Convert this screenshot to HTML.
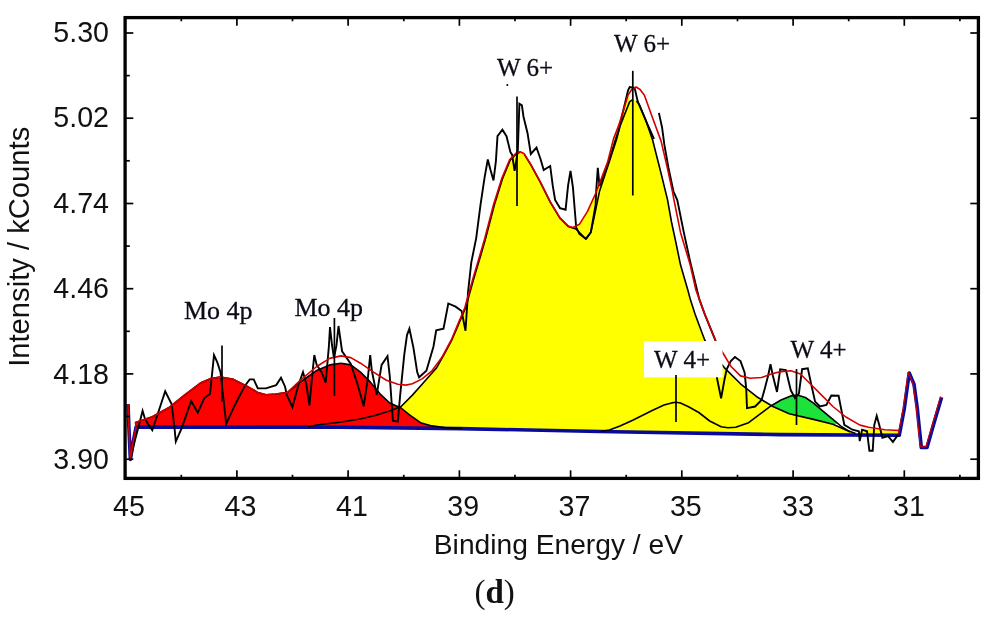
<!DOCTYPE html>
<html><head><meta charset="utf-8"><title>XPS W 4f</title>
<style>
html,body{margin:0;padding:0;background:#fff;}
svg{display:block;filter:blur(0.45px);}
.ax{font-family:"Liberation Sans",Arial,sans-serif;font-size:28.6px;fill:#111;}
.lb{font-family:"Liberation Serif","Times New Roman",serif;font-size:25px;fill:#0c0c18;stroke:#0c0c18;stroke-width:0.3px;}
</style></head><body>
<svg width="989" height="617" viewBox="0 0 989 617">
<rect width="989" height="617" fill="#fff"/>
<g id="curves">
<polygon points="401.1,406.5 412.4,395.1 425.4,380.5 436.7,367.6 444.8,353.0 451.8,340.0 456.6,328.9 465.6,307.8 473.8,278.6 482.0,251.1 485.5,238.9 494.4,204.8 502.4,178.9 510.3,160.0 516.4,153.6 520.2,152.3 524.3,153.8 530.8,164.3 540.5,182.1 550.2,201.6 560.0,217.8 568.1,225.9 572.9,227.5 579.4,224.3 587.5,211.3 595.6,193.5 607.6,162.1 613.5,138.9 618.9,124.9 628.1,95.1 629.7,101.6 633.0,99.5 636.5,101.0 639.4,104.8 645.7,120.0 652.6,140.0 661.1,173.5 667.5,199.6 671.5,222.0 676.0,243.0 680.5,264.8 687.8,290.0 690.2,298.9 695.1,314.3 704.8,340.3 715.0,356.0 724.3,367.6 740.5,383.8 756.7,396.7 772.9,406.5 789.2,413.8 813.5,419.4 832.9,424.3 845.9,430.0 855.6,433.5 868.6,428.5 884.8,430.5 899.4,431.2 899.4,436.3 780.0,435.6 600.0,432.5 460.0,429.6 401.1,429.0" fill="#ffff00"/>
<polygon points="135.4,422.4 152.4,416.7 168.6,407.8 184.8,394.8 201.0,382.7 210.8,378.6 220.5,377.0 233.5,379.4 246.4,385.9 257.8,392.4 265.9,394.8 276.2,394.0 287.6,392.4 300.5,381.9 316.7,370.5 329.7,364.9 341.0,363.2 350.8,364.9 360.5,372.1 370.2,381.9 380.0,393.8 389.7,403.0 401.1,408.0 409.2,414.6 420.5,422.7 431.9,425.9 444.8,427.6 462.0,428.5 462.0,429.6 340.0,428.3 135.4,428.0" fill="#ff0000"/>
<polygon points="771.3,405.7 781.0,400.0 790.8,395.9 797.3,395.1 805.4,397.5 813.5,403.2 823.2,411.3 832.9,419.4 838.0,423.5 832.9,424.3 813.5,419.4 797.3,416.2 789.2,413.8" fill="#1ee23c"/>
<polyline points="128.0,404.0 129.0,430.0 130.4,459.4 133.0,443.0 136.1,427.0 340.0,427.3 460.0,428.6 600.0,431.5 780.0,434.6 899.4,435.3 899.4,434.6 904.3,408.6 909.2,373.0 914.0,384.3 917.3,408.6 921.3,447.5 927.0,447.5 933.5,424.8 941.6,397.3" fill="none" stroke="#0a0a9a" stroke-width="3.6" stroke-linejoin="round"/>
<polyline points="135.4,422.4 152.4,416.7 168.6,407.8 184.8,394.8 201.0,382.7 210.8,378.6 220.5,377.0 233.5,379.4 246.4,385.9 257.8,392.4 265.9,394.8 276.2,394.0 287.6,392.4 300.5,381.9 316.7,370.5 329.7,364.9 341.0,363.2 350.8,364.9 360.5,372.1 370.2,381.9 380.0,393.8 389.7,403.0 401.1,408.0 409.2,414.6 420.5,422.7 431.9,425.9 444.8,427.6 462.0,428.5" fill="none" stroke="#000" stroke-width="1.6" stroke-linejoin="round"/>
<polyline points="308.0,427.0 316.7,425.0 340.0,422.3 360.0,419.0 375.0,415.5 389.7,411.0 401.1,406.5 412.4,395.1 425.4,380.5 436.7,367.6 444.8,353.0 451.8,340.0 456.6,328.9 465.6,307.8 473.8,278.6 482.0,251.1 485.5,238.9 494.4,204.8 502.4,178.9 510.3,160.0 516.4,153.6 520.2,152.3" fill="none" stroke="#000" stroke-width="1.6" stroke-linejoin="round"/>
<polyline points="524.3,154.3 530.8,164.8 540.5,182.6 550.2,202.1 560.0,218.3 568.1,226.4 576.0,229.0 586.0,239.0" fill="none" stroke="#000" stroke-width="1.6" stroke-linejoin="round"/>
<polyline points="586.0,239.0 590.8,232.4 593.8,218.9 599.5,191.3 609.2,162.1 616.7,138.9 620.5,124.9 629.7,101.6 633.0,99.5" fill="none" stroke="#000" stroke-width="1.6" stroke-linejoin="round"/>
<polyline points="636.5,101.0 639.4,104.8 645.7,120.0 652.6,140.0 661.1,173.5 667.5,199.6 671.5,222.0 676.0,243.0 680.5,264.8 687.8,290.0 690.2,298.9 695.1,314.3 704.8,340.3 715.0,356.0 724.3,367.6 740.5,383.8 756.7,396.7 772.9,406.5 789.2,413.8 813.5,419.4 832.9,424.3 845.9,430.0 855.6,433.5" fill="none" stroke="#000" stroke-width="1.6" stroke-linejoin="round"/>
<polyline points="600.0,431.5 609.4,430.0 620.0,426.0 632.7,420.2 652.2,410.5 664.0,405.0 671.6,402.9 676.0,402.3 680.5,403.0 689.0,407.0 698.8,412.5 709.7,421.0 721.1,426.8 728.0,427.8 735.7,427.2 748.6,422.7 761.6,412.9 771.3,405.7 781.0,400.0 790.8,395.9 797.3,395.1 805.4,397.5 813.5,403.2 823.2,411.3 832.9,419.4 842.0,427.0 850.0,432.0" fill="none" stroke="#000" stroke-width="1.6" stroke-linejoin="round"/>
<polyline points="130.4,459.4 135.0,440.0 139.0,425.0 142.6,410.8 145.0,418.9 148.0,424.0 152.3,430.2 158.8,410.8 165.2,391.3 171.7,404.3 174.5,428.0 175.8,441.6 181.5,428.6 191.2,401.0 197.8,412.7 204.3,398.1 210.0,394.0 214.0,355.1 217.3,362.4 220.5,372.1 223.0,395.0 226.2,424.0 233.5,407.8 244.8,385.9 249.7,379.4 253.7,379.4 257.8,388.4 265.9,388.4 276.2,385.1 281.0,377.8 285.1,386.7 286.7,394.8 292.4,407.0 298.9,383.5 303.0,372.1 306.2,383.5 309.4,405.4 312.7,370.5 314.3,355.1 316.7,364.9 321.6,372.1 325.7,382.7 328.9,346.2 330.0,327.0 332.0,345.0 334.0,358.0 336.5,345.0 338.5,326.0 342.1,351.3 350.8,364.0 357.3,383.5 363.7,406.2 367.8,378.6 370.2,355.1 371.8,370.5 375.1,386.7 376.7,394.8 381.6,364.9 387.5,356.2 389.7,375.4 392.9,420.8 397.8,421.6 400.2,394.8 404.3,354.3 407.0,335.1 409.4,328.6 413.5,348.1 417.2,372.1 419.1,377.3 426.4,370.8 433.5,346.5 436.2,330.3 443.5,328.6 448.3,303.5 455.6,306.7 461.6,311.0 465.5,330.8 468.1,291.6 471.3,262.4 476.2,238.1 480.5,204.8 484.6,177.3 487.8,159.5 490.3,169.2 493.5,180.5 495.9,161.1 497.5,136.2 502.4,129.7 506.5,136.2 510.5,152.4 512.1,154.6 514.6,170.8 517.8,150.8 519.4,103.8 521.9,105.4 523.5,116.7 527.5,132.9 530.8,154.0 536.5,147.5 540.5,159.0 543.7,170.0 550.2,166.0 552.7,185.4 555.1,200.0 560.0,208.1 565.6,209.7 568.1,185.4 570.5,170.8 572.9,187.0 576.2,227.5 579.4,234.0 585.9,238.9 590.8,232.4 595.6,204.8 596.2,191.3 597.8,167.8 599.5,186.0 609.2,160.0 618.4,130.8 628.1,90.3 629.7,87.0 634.6,87.8 637.8,101.6 647.5,124.3 654.0,138.9" fill="none" stroke="#000" stroke-width="1.9" stroke-linejoin="miter"/>
<polyline points="658.9,112.9 662.1,127.6 664.3,144.3 668.5,168.0 673.4,191.3 677.3,200.0 683.8,232.4 690.2,261.6 699.2,298.9 704.8,314.3 715.4,340.3 717.0,378.1 721.1,398.4 724.3,380.5 726.7,369.2 730.8,361.1 734.9,357.0 740.5,361.1 744.6,372.4 746.2,388.6 747.0,408.1 755.1,406.5 761.6,400.0 764.8,388.6 768.1,375.7 770.5,364.3 772.9,375.7 777.0,391.9 780.2,369.2 785.9,370.0 790.8,390.3 795.0,398.0 798.9,393.5 802.1,369.2 807.8,368.4 811.8,387.0 815.1,401.6 820.0,406.5 826.4,404.9 831.3,395.5 838.6,395.7 841.1,408.6 844.3,424.8 852.4,429.7 858.9,431.3 859.7,441.1 862.1,429.7 867.0,431.3 869.4,450.8 872.7,450.8 874.3,424.8 876.7,415.9 879.2,424.8 882.4,437.8 888.1,436.2 892.9,441.9 897.0,436.2 899.4,434.6" fill="none" stroke="#000" stroke-width="1.9" stroke-linejoin="miter"/>
<polyline points="128.0,404.0 129.0,430.0 130.4,459.4 133.0,443.0 136.1,427.0 135.4,422.4 152.4,416.7 168.6,407.8 184.8,394.8 201.0,382.7 210.8,378.6 220.5,377.0 233.5,379.4 246.4,385.9 257.8,392.4 265.9,394.8 276.2,394.0 287.6,392.4 300.5,380.2 316.7,366.5 329.7,358.4 341.0,355.9 350.8,357.6 360.5,363.2 373.5,372.1 386.4,380.2 397.8,384.3 405.9,385.1 412.4,383.8 422.1,378.9 431.9,370.8 441.6,357.8 451.3,340.0 455.9,328.9 464.8,307.8 472.9,278.6 481.1,251.1 484.6,238.9 493.5,204.8 501.6,178.9 509.7,159.5 516.2,153.0 520.2,151.7 524.3,153.8 530.8,164.3 540.5,182.1 550.2,201.6 560.0,217.8 568.1,225.9 572.9,227.5 579.4,224.3 587.5,211.3 595.6,193.5 607.6,162.1 613.5,138.9 618.9,124.9 628.1,95.1 632.0,89.0 636.2,87.0 640.0,89.5 644.3,95.1 652.6,118.0 661.1,141.1 667.5,168.6 672.4,191.3 674.0,200.0 680.5,232.4 690.2,264.8 695.9,290.0 699.2,298.9 704.8,314.3 715.4,340.3 723.5,354.0 730.8,366.2 740.5,375.9 750.2,378.3 761.6,377.5 772.9,373.5 781.0,371.6 790.8,370.8 800.5,374.0 810.2,383.8 821.6,395.1 832.9,406.5 845.9,417.0 860.0,425.1 868.6,427.3 884.8,429.7 899.4,430.5" fill="none" stroke="#d40000" stroke-width="1.6" stroke-linejoin="round"/>
<polyline points="899.4,430.5 898.4,433.8 903.3,407.8 908.2,372.2 913.0,383.5 916.3,407.8 920.3,446.7 926.0,446.7 932.5,424.0 940.6,396.5" fill="none" stroke="#d40000" stroke-width="1.1" stroke-linejoin="round"/>
<rect x="644" y="341" width="78.5" height="36.3" fill="#fff"/>
<line x1="222" y1="345.5" x2="222" y2="401.5" stroke="#000" stroke-width="1.7"/>
<line x1="334.4" y1="318" x2="334.4" y2="396" stroke="#000" stroke-width="1.7"/>
<line x1="517" y1="96.5" x2="517" y2="206" stroke="#000" stroke-width="1.7"/>
<line x1="632.8" y1="70.8" x2="632.8" y2="195.5" stroke="#000" stroke-width="1.7"/>
<line x1="676" y1="375" x2="676" y2="422" stroke="#000" stroke-width="1.7"/>
<line x1="796.5" y1="369" x2="796.5" y2="425" stroke="#000" stroke-width="1.7"/>
<circle cx="507.3" cy="85" r="1" fill="#000"/>
<text class="lb" style="font-size:26px" x="184" y="319.3">Mo 4p</text>
<text class="lb" style="font-size:26px" x="294.5" y="315.8">Mo 4p</text>
<text class="lb" x="497" y="76">W 6+</text>
<text class="lb" x="614" y="51.5">W 6+</text>
<text class="lb" x="654" y="367.5">W 4+</text>
<text class="lb" x="790.5" y="357.5">W 4+</text>
</g>
<rect x="125.1" y="17.6" width="853.3" height="460.8" stroke="#000" fill="none" stroke-width="3.3"/>
<g id="ticks" stroke="#000" stroke-width="1.7">
<line x1="181.3" y1="478" x2="181.3" y2="474.8"/>
<line x1="181.3" y1="18" x2="181.3" y2="21.3"/>
<line x1="236.9" y1="478" x2="236.9" y2="470.3"/>
<line x1="236.9" y1="18" x2="236.9" y2="25.8"/>
<line x1="292.5" y1="478" x2="292.5" y2="474.8"/>
<line x1="292.5" y1="18" x2="292.5" y2="21.3"/>
<line x1="348.1" y1="478" x2="348.1" y2="470.3"/>
<line x1="348.1" y1="18" x2="348.1" y2="25.8"/>
<line x1="403.8" y1="478" x2="403.8" y2="474.8"/>
<line x1="403.8" y1="18" x2="403.8" y2="21.3"/>
<line x1="459.4" y1="478" x2="459.4" y2="470.3"/>
<line x1="459.4" y1="18" x2="459.4" y2="25.8"/>
<line x1="515.0" y1="478" x2="515.0" y2="474.8"/>
<line x1="515.0" y1="18" x2="515.0" y2="21.3"/>
<line x1="570.6" y1="478" x2="570.6" y2="470.3"/>
<line x1="570.6" y1="18" x2="570.6" y2="25.8"/>
<line x1="626.2" y1="478" x2="626.2" y2="474.8"/>
<line x1="626.2" y1="18" x2="626.2" y2="21.3"/>
<line x1="681.8" y1="478" x2="681.8" y2="470.3"/>
<line x1="681.8" y1="18" x2="681.8" y2="25.8"/>
<line x1="737.5" y1="478" x2="737.5" y2="474.8"/>
<line x1="737.5" y1="18" x2="737.5" y2="21.3"/>
<line x1="793.1" y1="478" x2="793.1" y2="470.3"/>
<line x1="793.1" y1="18" x2="793.1" y2="25.8"/>
<line x1="848.7" y1="478" x2="848.7" y2="474.8"/>
<line x1="848.7" y1="18" x2="848.7" y2="21.3"/>
<line x1="904.3" y1="478" x2="904.3" y2="470.3"/>
<line x1="904.3" y1="18" x2="904.3" y2="25.8"/>
<line x1="959.9" y1="478" x2="959.9" y2="474.8"/>
<line x1="959.9" y1="18" x2="959.9" y2="21.3"/>
<line x1="125.5" y1="33.0" x2="133.3" y2="33.0"/>
<line x1="978" y1="33.0" x2="970.3" y2="33.0"/>
<line x1="125.5" y1="75.6" x2="129.8" y2="75.6"/>
<line x1="125.5" y1="118.2" x2="133.3" y2="118.2"/>
<line x1="978" y1="118.2" x2="970.3" y2="118.2"/>
<line x1="125.5" y1="160.8" x2="129.8" y2="160.8"/>
<line x1="125.5" y1="203.5" x2="133.3" y2="203.5"/>
<line x1="978" y1="203.5" x2="970.3" y2="203.5"/>
<line x1="125.5" y1="246.1" x2="129.8" y2="246.1"/>
<line x1="125.5" y1="288.7" x2="133.3" y2="288.7"/>
<line x1="978" y1="288.7" x2="970.3" y2="288.7"/>
<line x1="125.5" y1="331.3" x2="129.8" y2="331.3"/>
<line x1="125.5" y1="373.9" x2="133.3" y2="373.9"/>
<line x1="978" y1="373.9" x2="970.3" y2="373.9"/>
<line x1="125.5" y1="416.5" x2="129.8" y2="416.5"/>
<line x1="125.5" y1="459.2" x2="133.3" y2="459.2"/>
<line x1="978" y1="459.2" x2="970.3" y2="459.2"/>
</g>
<g class="ax" text-anchor="end">
<text x="109" y="42.2">5.30</text>
<text x="109" y="126.8">5.02</text>
<text x="109" y="213">4.74</text>
<text x="109" y="297.7">4.46</text>
<text x="109" y="383.7">4.18</text>
<text x="109" y="469.2">3.90</text>
</g>
<g class="ax" text-anchor="middle">
<text x="129" y="515.5">45</text>
<text x="240.5" y="515.5">43</text>
<text x="352" y="515.5">41</text>
<text x="463.2" y="515.5">39</text>
<text x="574.4" y="515.5">37</text>
<text x="685.8" y="515.5">35</text>
<text x="798" y="515.5">33</text>
<text x="909" y="515.5">31</text>
</g>
<text class="ax" style="font-size:28.2px" text-anchor="middle" x="558.4" y="553.8">Binding Energy / eV</text>
<text class="ax" style="font-size:29.2px" text-anchor="middle" transform="translate(29,246.8) rotate(-90)">Intensity / kCounts</text>
<text x="494.6" y="603.3" text-anchor="middle" style="font-family:'Liberation Serif',serif;font-size:33px;fill:#111">(<tspan font-weight="bold">d</tspan>)</text>
</svg>
</body></html>
